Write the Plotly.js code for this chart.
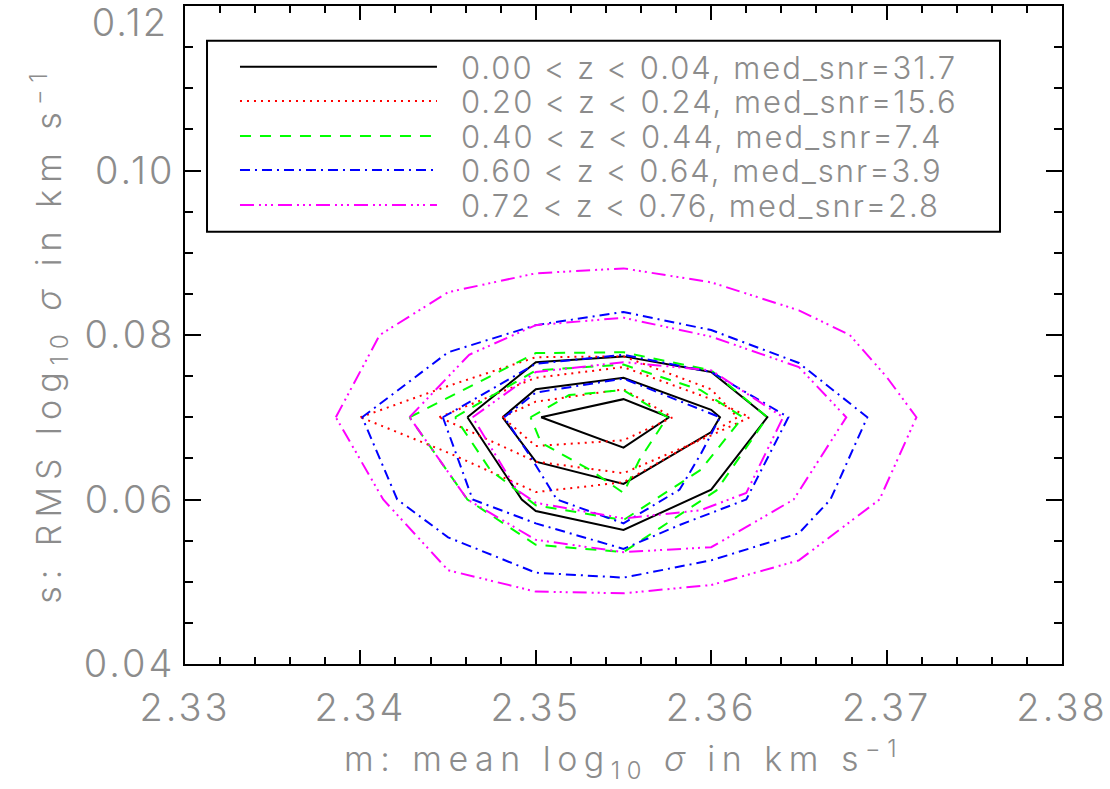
<!DOCTYPE html>
<html>
<head>
<meta charset="utf-8">
<script src="https://cdn.plot.ly/plotly-3.0.1.min.js"></script>
<style>
  html, body { margin: 0; padding: 0; background: #ffffff; }
  #chart { width: 1110px; height: 789px; }
  /* the stroke font of the axes is wide-set; open the tracking */
  #chart .xtitle { letter-spacing: 6.5px; }
  #chart .ytitle { letter-spacing: 7px; }
  #chart .xtick text, #chart .ytick text { letter-spacing: 3px; }
  #chart .annotation-text { letter-spacing: 2px; }
</style>
</head>
<body>
<div id="chart"></div>
<script>
// Contours of (m, s) for five redshift slices; each slice holds three
// closed levels, separated by null so they share one trace.
const binLabels = [
  "0.00 &lt; z &lt; 0.04, med_snr=31.7",
  "0.20 &lt; z &lt; 0.24, med_snr=15.6",
  "0.40 &lt; z &lt; 0.44, med_snr=7.4",
  "0.60 &lt; z &lt; 0.64, med_snr=3.9",
  "0.72 &lt; z &lt; 0.76, med_snr=2.8"
];

const bin1M = [2.3461, 2.3500, 2.3550, 2.3600, 2.3632, 2.3600, 2.3550, 2.3500, 2.3492, 2.3461, null,
               2.3481, 2.3500, 2.3550, 2.3600, 2.3605, 2.3600, 2.3550, 2.3500, 2.3481, null,
               2.3503, 2.3550, 2.3576, 2.3550, 2.3503];
const bin1S = [0.0700, 0.0767, 0.0774, 0.0755, 0.0700, 0.0612, 0.0563, 0.0586, 0.0600, 0.0700, null,
               0.0700, 0.0734, 0.0748, 0.0709, 0.0700, 0.0682, 0.0619, 0.0646, 0.0700, null,
               0.0700, 0.0722, 0.0700, 0.0663, 0.0700];

const bin2M = [2.3400, 2.3450, 2.3500, 2.3550, 2.3600, 2.3615, 2.3600, 2.3550, 2.3500, 2.3450, 2.3400, null,
               2.3445, 2.3500, 2.3550, 2.3600, 2.3622, 2.3600, 2.3550, 2.3500, 2.3445, null,
               2.3481, 2.3500, 2.3550, 2.3578, 2.3550, 2.3500, 2.3481];
const bin2S = [0.0700, 0.0738, 0.0773, 0.0774, 0.0734, 0.0700, 0.0681, 0.0621, 0.0609, 0.0657, 0.0700, null,
               0.0700, 0.0748, 0.0761, 0.0722, 0.0700, 0.0678, 0.0632, 0.0646, 0.0700, null,
               0.0700, 0.0719, 0.0734, 0.0700, 0.0672, 0.0665, 0.0700];

const bin3M = [2.3428, 2.3500, 2.3550, 2.3600, 2.3632, 2.3603, 2.3550, 2.3500, 2.3461, 2.3428, null,
               2.3454, 2.3500, 2.3550, 2.3594, 2.3618, 2.3594, 2.3550, 2.3500, 2.3474, 2.3454, null,
               2.3497, 2.3519, 2.3550, 2.3575, 2.3559, 2.3550, 2.3531, 2.3503, 2.3497];
const bin3S = [0.0700, 0.0778, 0.0779, 0.0757, 0.0700, 0.0611, 0.0536, 0.0545, 0.0600, 0.0700, null,
               0.0700, 0.0757, 0.0764, 0.0733, 0.0700, 0.0636, 0.0575, 0.0593, 0.0636, 0.0700, null,
               0.0700, 0.0727, 0.0733, 0.0700, 0.0648, 0.0608, 0.0636, 0.0669, 0.0700];

const bin4M = [2.3401, 2.3450, 2.3500, 2.3550, 2.3600, 2.3650, 2.3689, 2.3668, 2.3650, 2.3600, 2.3550, 2.3500, 2.3450, 2.3421, 2.3401, null,
               2.3447, 2.3500, 2.3550, 2.3600, 2.3644, 2.3620, 2.3582, 2.3550, 2.3500, 2.3464, 2.3447, null,
               2.3482, 2.3500, 2.3550, 2.3605, 2.3594, 2.3582, 2.3550, 2.3512, 2.3497, 2.3482];
const bin4S = [0.0700, 0.0779, 0.0812, 0.0828, 0.0806, 0.0766, 0.0700, 0.0600, 0.0559, 0.0526, 0.0505, 0.0511, 0.0554, 0.0600, 0.0700, null,
               0.0700, 0.0765, 0.0776, 0.0755, 0.0700, 0.0600, 0.0569, 0.0540, 0.0571, 0.0600, 0.0700, null,
               0.0700, 0.0730, 0.0747, 0.0700, 0.0655, 0.0612, 0.0571, 0.0600, 0.0652, 0.0700];

const bin5M = [2.3386, 2.3411, 2.3450, 2.3500, 2.3550, 2.3600, 2.3650, 2.3679, 2.3700, 2.3717, 2.3696, 2.3650, 2.3600, 2.3550, 2.3500, 2.3450, 2.3413, 2.3386, null,
               2.3428, 2.3462, 2.3500, 2.3550, 2.3600, 2.3650, 2.3677, 2.3647, 2.3600, 2.3550, 2.3500, 2.3461, 2.3428, null,
               2.3464, 2.3500, 2.3550, 2.3600, 2.3641, 2.3620, 2.3594, 2.3550, 2.3500, 2.3489, 2.3464];
const bin5S = [0.0700, 0.0800, 0.0852, 0.0875, 0.0881, 0.0864, 0.0830, 0.0800, 0.0749, 0.0700, 0.0600, 0.0526, 0.0496, 0.0486, 0.0488, 0.0514, 0.0600, 0.0700, null,
               0.0700, 0.0776, 0.0812, 0.0821, 0.0798, 0.0761, 0.0700, 0.0600, 0.0542, 0.0536, 0.0551, 0.0600, 0.0700, null,
               0.0700, 0.0755, 0.0767, 0.0757, 0.0700, 0.0608, 0.0587, 0.0577, 0.0596, 0.0612, 0.0700];

const xTickVals = [2.33, 2.34, 2.35, 2.36, 2.37, 2.38];
const yTickVals = [0.04, 0.06, 0.08, 0.10, 0.12];

const seriesM = [bin1M, bin2M, bin3M, bin4M, bin5M];
const seriesS = [bin1S, bin2S, bin3S, bin4S, bin5S];
const colors = ["#000000", "#ff0000", "#00ff00", "#0000ff", "#ff00ff"];
const dashes = ["solid", "2px,5px", "11px,9px", "10px,5px,2px,5px",
                "14px,5px,2px,4px,2px,4px,2px,5px"];

const textFont = { family: "Inter, DejaVu Sans, sans-serif", color: "#8c8c8c", weight: 300 };

const traces = seriesM.map((m, i) => ({
  type: "scatter",
  mode: "lines",
  x: m,
  y: seriesS[i],
  connectgaps: false,
  line: { color: colors[i], width: 2, dash: dashes[i] },
  hoverinfo: "skip",
  showlegend: false
}));

// Hand-built key: a framed box with long line samples and labels.
const keyLeft = 0.0251, keyRight = 0.9293, keyTop = 0.9473, keyBottom = 0.657;
const sampleX0 = 0.0627, sampleX1 = 0.2873, labelX = 0.3136;
const rowY = [0.9077, 0.8556, 0.8024, 0.7508, 0.6976];

const shapes = [{
  type: "rect", xref: "paper", yref: "paper",
  x0: keyLeft, x1: keyRight, y0: keyBottom, y1: keyTop,
  line: { color: "#000000", width: 2 }, fillcolor: "#ffffff"
}];
const annotations = [];
binLabels.forEach((lab, i) => {
  shapes.push({
    type: "line", xref: "paper", yref: "paper",
    x0: sampleX0, x1: sampleX1, y0: rowY[i], y1: rowY[i],
    line: { color: colors[i], width: 2, dash: dashes[i] }
  });
  annotations.push({
    xref: "paper", yref: "paper", x: labelX, y: rowY[i],
    xanchor: "left", yanchor: "middle", showarrow: false,
    width: 520, height: 34, align: "left", borderpad: 0,
    text: lab, font: Object.assign({ size: 31 }, textFont)
  });
});

// The top y label sits at the very edge of the frame, so it is set
// just inside the figure rather than centred on its tick.
const topYLabel = yTickVals[yTickVals.length - 1];
annotations.push({
  xref: "paper", yref: "y", x: 0, y: topYLabel,
  xanchor: "right", yanchor: "middle", xshift: -15, yshift: -16,
  width: 90, align: "right",
  showarrow: false, text: topYLabel.toFixed(2),
  font: Object.assign({ size: 38 }, textFont)
});

const layout = {
  width: 1110, height: 789,
  margin: { l: 185, r: 48, t: 6, b: 125 },
  paper_bgcolor: "#ffffff", plot_bgcolor: "#ffffff",
  showlegend: false,
  xaxis: {
    range: [2.33, 2.38], tickvals: xTickVals, tickformat: ".2f",
    ticks: "inside", ticklen: 14, tickwidth: 2, tickcolor: "#000000",
    minor: { dtick: 0.002, tick0: 2.33, ticks: "inside", ticklen: 7, tickwidth: 2, tickcolor: "#000000" },
    showline: true, linecolor: "#000000", linewidth: 2, mirror: "ticks",
    showgrid: false, zeroline: false,
    tickfont: Object.assign({ size: 38 }, textFont),
    ticklabelstandoff: 9,
    title: { text: "m: mean log<sub>10</sub> <i>σ</i> in km s<sup>−1</sup>",
             font: Object.assign({ size: 34 }, textFont), standoff: 19 }
  },
  yaxis: {
    range: [0.04, 0.12], tickvals: yTickVals,
    ticktext: yTickVals.map(v => v === topYLabel ? "" : v.toFixed(2)),
    ticks: "inside", ticklen: 16, tickwidth: 2, tickcolor: "#000000",
    minor: { dtick: 0.005, tick0: 0.04, ticks: "inside", ticklen: 8, tickwidth: 2, tickcolor: "#000000" },
    showline: true, linecolor: "#000000", linewidth: 2, mirror: "ticks",
    showgrid: false, zeroline: false,
    tickfont: Object.assign({ size: 38 }, textFont),
    ticklabelstandoff: 0,
    title: { text: "s: RMS log<sub>10</sub> <i>σ</i> in km s<sup>−1</sup>",
             font: Object.assign({ size: 34 }, textFont), standoff: 24 }
  },
  shapes: shapes,
  annotations: annotations
};

Plotly.newPlot("chart", traces, layout, { staticPlot: true, displayModeBar: false });
</script>
</body>
</html>
